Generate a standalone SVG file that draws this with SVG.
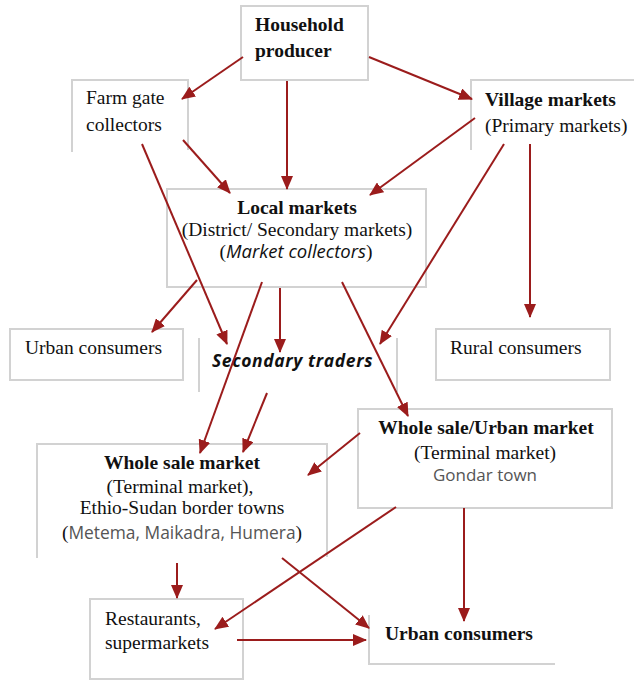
<svg xmlns="http://www.w3.org/2000/svg" width="637" height="683" viewBox="0 0 637 683">
<defs>
<style>
.box{fill:none;stroke:#d2d2d2;stroke-width:2}
.s{font-family:"Liberation Serif","Times New Roman",serif;font-size:19.5px;fill:#111}
.b{font-weight:bold}
.sans{font-family:"Open Sans","Liberation Sans",sans-serif}
.g{fill:#555}
.c{text-anchor:middle}
.e{stroke:#9b1c1c;stroke-width:2;fill:none;marker-end:url(#ah)}
</style>
<marker id="ah" markerUnits="userSpaceOnUse" markerWidth="14" markerHeight="12" refX="13" refY="6" orient="auto" viewBox="0 0 14 12">
<path d="M0,0 L14,6 L0,12 z" fill="#9b1c1c"/>
</marker>
</defs>
<rect width="637" height="683" fill="#fff"/>

<g id="household">
<rect class="box" x="241" y="6" width="127" height="74"/>
<text class="s b" x="255" y="31">Household</text>
<text class="s b" x="255" y="57">producer</text>
</g>

<g id="farmgate">
<path class="box" d="M72,152 V80 H188 V150"/>
<text class="s" x="86" y="104">Farm gate</text>
<text class="s" x="86" y="131">collectors</text>
</g>

<g id="village">
<path class="box" d="M471,150 V80 H634"/>
<text class="s b" x="485" y="106">Village markets</text>
<text class="s" x="485" y="132">(Primary markets)</text>
</g>

<g id="local">
<rect class="box" x="167" y="189" width="259" height="98"/>
<text class="s b c" x="297" y="214">Local markets</text>
<text class="s c" x="297" y="236">(District/ Secondary markets)</text>
<text class="c" x="296" y="258" style="font-family:'Liberation Serif',serif;font-size:19.5px;fill:#111">(<tspan style="font-family:'Open Sans','Liberation Sans',sans-serif;font-style:italic;font-size:18.5px">Market collectors</tspan>)</text>
</g>

<g id="urban1">
<rect class="box" x="10" y="329" width="173" height="51"/>
<text class="s" x="25" y="354">Urban consumers</text>
</g>

<g id="secondary">
<path class="box" d="M199,338 V392 M397,338 V392"/>
<text x="212" y="367" style="font-family:'Open Sans','Liberation Sans',sans-serif;font-style:italic;font-weight:bold;font-size:17.5px;letter-spacing:0.6px;fill:#111">Secondary traders</text>
</g>

<g id="rural">
<rect class="box" x="436" y="329" width="174" height="51"/>
<text class="s" x="450" y="354">Rural consumers</text>
</g>

<g id="wholesale">
<path class="box" d="M37,558 V444 H327 V557"/>
<text class="s b c" x="182" y="469">Whole sale market</text>
<text class="s c" x="180" y="493">(Terminal market),</text>
<text class="s c" x="182" y="514">Ethio-Sudan border towns</text>
<text class="s c" x="182" y="539">(<tspan class="sans g" style="font-size:17.4px">Metema, Maikadra, Humera</tspan>)</text>
</g>

<g id="wholesaleurban">
<rect class="box" x="358" y="409" width="254" height="99"/>
<text class="s b c" x="486" y="434">Whole sale/Urban market</text>
<text class="s c" x="485" y="459">(Terminal market)</text>
<text class="sans g c" x="485" y="481" style="font-size:17px">Gondar town</text>
</g>

<g id="restaurants">
<rect class="box" x="90" y="599" width="153" height="80"/>
<text class="s" x="105" y="625">Restaurants,</text>
<text class="s" x="105" y="649">supermarkets</text>
</g>

<g id="urban2">
<path class="box" d="M369,615 V664 H555"/>
<text class="s b" x="385" y="640">Urban consumers</text>
</g>

<g id="connectors">
<line class="e" x1="243" y1="57" x2="182" y2="99"/>
<line class="e" x1="287" y1="81" x2="287" y2="189"/>
<line class="e" x1="369" y1="57" x2="472" y2="99"/>
<line class="e" x1="183" y1="140" x2="230" y2="193"/>
<line class="e" x1="142" y1="144" x2="227" y2="344"/>
<line class="e" x1="475" y1="118" x2="370" y2="195"/>
<line class="e" x1="504" y1="144" x2="380" y2="344"/>
<line class="e" x1="530" y1="144" x2="530" y2="317"/>
<line class="e" x1="197" y1="280" x2="152" y2="332"/>
<line class="e" x1="280" y1="288" x2="280" y2="352"/>
<line class="e" x1="342" y1="282" x2="408" y2="416"/>
<line class="e" x1="262" y1="282" x2="200" y2="453"/>
<line class="e" x1="267" y1="393" x2="243" y2="452"/>
<line class="e" x1="360" y1="433" x2="308" y2="475"/>
<line class="e" x1="177" y1="563" x2="177" y2="598"/>
<line class="e" x1="396" y1="507" x2="215" y2="629"/>
<line class="e" x1="282" y1="558" x2="369" y2="628"/>
<line class="e" x1="237" y1="640" x2="366" y2="640"/>
<line class="e" x1="464" y1="508" x2="464" y2="621"/>
</g>
</svg>
